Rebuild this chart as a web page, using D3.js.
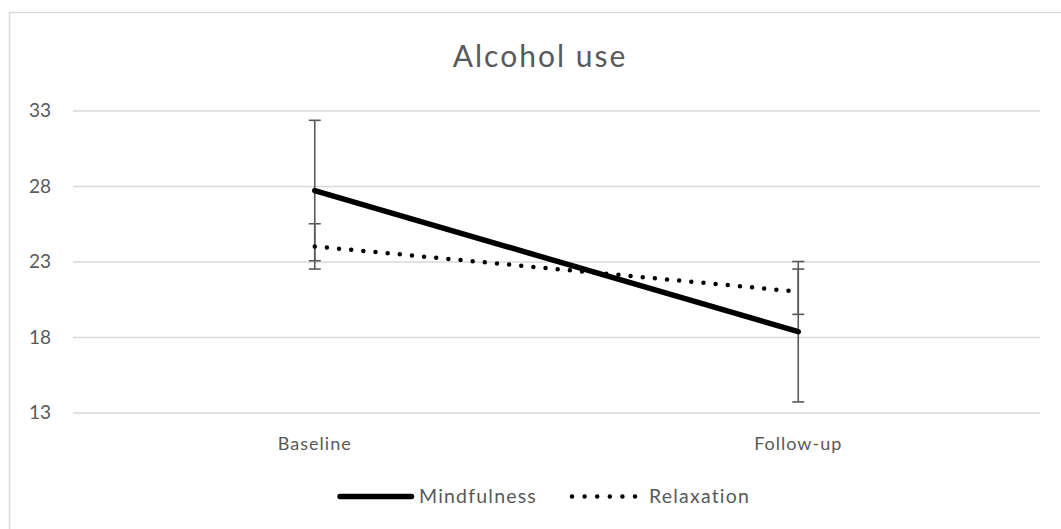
<!DOCTYPE html>
<html>
<head>
<meta charset="utf-8">
<script src="https://cdn.jsdelivr.net/npm/d3@7"></script>
<style>
  html, body { margin: 0; padding: 0; background: #fff; }
  svg { display: block; }
  text { font-family: Lato, "Open Sans", sans-serif; fill: #595959; }
</style>
</head>
<body>
<svg id="chart" width="1061" height="529"></svg>
<script>
// Chart data
const title = "Alcohol use";
const timepoints = ["Baseline", "Follow-up"];
const seriesNames = ["Mindfulness", "Relaxation"];
const mindfulnessMeans = [27.7, 18.35];
const mindfulnessErrors = [4.65, 4.65];
const relaxationMeans = [24.0, 21.0];
const relaxationErrors = [1.5, 1.5];
const yTicks = [13, 18, 23, 28, 33];

const series = [
  { name: seriesNames[0], means: mindfulnessMeans, errors: mindfulnessErrors, dotted: false },
  { name: seriesNames[1], means: relaxationMeans, errors: relaxationErrors, dotted: true }
];

const svg = d3.select("#chart");
const plot = { left: 73, right: 1040, top: 110.5, bottom: 412.5 };

// Outer chart frame
svg.append("rect")
  .attr("x", 9.5).attr("y", 12.5)
  .attr("width", 1100).attr("height", 600)
  .attr("fill", "#fff")
  .attr("stroke", "#d9d9d9").attr("stroke-width", 1.5);

const x = d3.scaleBand().domain(timepoints).range([plot.left, plot.right]);
const y = d3.scaleLinear().domain([13, 33]).range([plot.bottom, plot.top]);
const cx = d => x(d) + x.bandwidth() / 2;

// Gridlines + y labels
const yAxis = d3.axisLeft(y).tickValues(yTicks).tickSize(-(plot.right - plot.left)).tickPadding(22);
const gy = svg.append("g").attr("transform", `translate(${plot.left},0)`).call(yAxis);
gy.select(".domain").remove();
gy.selectAll(".tick line").attr("stroke", "#d9d9d9").attr("stroke-width", 1.5);
gy.selectAll(".tick text")
  .attr("font-size", 19).attr("fill", "#595959")
  .style("font-family", "Lato, sans-serif");

// Category labels
const xAxis = d3.axisBottom(x).tickSize(0).tickPadding(25);
const gx = svg.append("g").attr("transform", `translate(0,${plot.bottom})`).call(xAxis);
gx.select(".domain").remove();
gx.selectAll(".tick text")
  .attr("font-size", 18).attr("fill", "#595959")
  .attr("letter-spacing", 1)
  .style("font-family", "Lato, sans-serif");

// Error bars
const capHalf = 6;
series.forEach(s => {
  const g = svg.append("g");
  timepoints.forEach((t, i) => {
    const xc = cx(t);
    const lo = y(s.means[i] - s.errors[i]);
    const hi = y(s.means[i] + s.errors[i]);
    g.append("line").attr("x1", xc).attr("x2", xc).attr("y1", lo).attr("y2", hi)
      .attr("stroke", "#595959").attr("stroke-width", 1.6);
    [lo, hi].forEach(yy => {
      g.append("line").attr("x1", xc - capHalf).attr("x2", xc + capHalf)
        .attr("y1", yy).attr("y2", yy)
        .attr("stroke", "#595959").attr("stroke-width", 1.6);
    });
  });
});

// Series lines
const line = d3.line().x((d, i) => cx(timepoints[i])).y(d => y(d));
series.forEach(s => {
  const p = svg.append("path")
    .datum(s.means)
    .attr("d", line)
    .attr("fill", "none")
    .attr("stroke", "#000")
    .attr("stroke-linecap", "round");
  if (s.dotted) {
    p.attr("stroke-width", 4.5).attr("stroke-dasharray", "0 12.2");
  } else {
    p.attr("stroke-width", 5.5);
  }
});

// Title
svg.append("text")
  .attr("x", 540).attr("y", 67)
  .attr("text-anchor", "middle")
  .attr("font-size", 30)
  .attr("letter-spacing", 2)
  .text(title);

// Legend
const legendY = 496.5;
const legendItems = [
  { s: series[0], x0: 340, x1: 411.5, tx: 419 },
  { s: series[1], x0: 572, x1: 636, tx: 649 }
];
legendItems.forEach(it => {
  const l = svg.append("line")
    .attr("x1", it.x0).attr("x2", it.x1).attr("y1", legendY).attr("y2", legendY)
    .attr("stroke", "#000").attr("stroke-linecap", "round");
  if (it.s.dotted) l.attr("stroke-width", 4.5).attr("stroke-dasharray", "0 12.6");
  else l.attr("stroke-width", 5.5);
  svg.append("text")
    .attr("x", it.tx).attr("y", legendY)
    .attr("dy", "0.35em")
    .attr("font-size", 19.5)
    .attr("letter-spacing", 1.2)
    .text(it.s.name);
});
</script>
</body>
</html>
